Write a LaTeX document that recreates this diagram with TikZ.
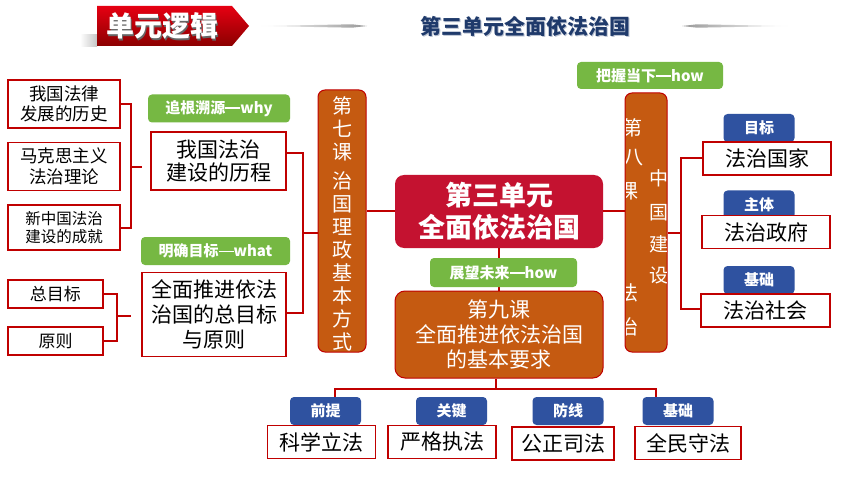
\documentclass[tikz,border=0pt]{standalone}
\usepackage{fontspec}
\setmainfont{Noto Sans CJK SC}
\usetikzlibrary{calc}
\definecolor{lred}{HTML}{C00000}
\definecolor{orng}{HTML}{C55A11}
\definecolor{crim}{HTML}{C41230}
\definecolor{grn}{HTML}{76B843}
\definecolor{blu}{HTML}{2F52A0}
\definecolor{navy}{HTML}{1F3A6B}
\definecolor{hdrtop}{HTML}{E60012}
\definecolor{hdrbot}{HTML}{8B0000}
\newcommand{\longdash}{\raisebox{0.3em}{\rule{1em}{1.6pt}}}
\tikzset{
 conn/.style={draw=lred, line width=2pt},
 rbox/.style={draw=lred, line width=1.8pt, fill=white, inner sep=0pt, align=center, text=black},
 glab/.style={fill=grn, rounded corners=4pt, inner sep=0pt, text=white, font=\fontsize{15}{18}\selectfont\bfseries},
 btag/.style={fill=blu, rounded corners=4pt, inner sep=0pt, text=white, minimum width=71pt, minimum height=28pt, font=\fontsize{15}{18}\selectfont\bfseries},
 obox/.style={fill=orng, draw=lred, line width=1pt, inner sep=0pt},
 wtxt/.style={text=white, inner sep=0pt, align=center},
 ktxt/.style={text=white, inner sep=0pt, font=\fontsize{20}{22}\selectfont},
}
\begin{document}
\begin{tikzpicture}[x=1pt,y=-1pt]
\useasboundingbox (0,0) rectangle (860,484);
\fill[white] (0,0) rectangle (860,484);

% ---- header ----
\shade[left color=white, right color=gray!45] (80,35) rectangle (97,47);
\shade[top color=hdrtop, bottom color=hdrbot] (97,6) -- (232,6) -- (249,26) -- (232,46) -- (97,46) -- cycle;
\node[text=black!60, font=\fontsize{28}{30}\selectfont\bfseries] at (163.5,27.5) {单元逻辑};
\node[name=hdr, text=white, font=\fontsize{28}{30}\selectfont\bfseries] at (162.5,26) {单元逻辑};
\shade[left color=white, right color=gray!80] (260,26) -- (352,24.3) -- (367,26) -- (352,27.7) -- cycle;
\shade[left color=gray!80, right color=white] (682,26) -- (697,24.3) -- (788,26) -- (697,27.7) -- cycle;
\node[text=navy!30, font=\fontsize{21}{24}\selectfont\bfseries] at (526.5,27) {第三单元全面依法治国};
\node[name=title, text=navy, font=\fontsize{21}{24}\selectfont\bfseries] at (525.5,26) {第三单元全面依法治国};

% ---- left column ----
\node[rbox, minimum width=112pt, minimum height=48pt, font=\fontsize{17.5}{20.5}\selectfont] (L1) at (64,104) {我国法律\\发展的历史};
\node[rbox, minimum width=112pt, minimum height=48pt, font=\fontsize{17.5}{21.5}\selectfont] (L2) at (64,166.5) {马克思主义\\法治理论};
\node[rbox, minimum width=112pt, minimum height=45pt, font=\fontsize{15.5}{18.5}\selectfont] (L3) at (64,227.5) {新中国法治\\建设的成就};
\node[rbox, minimum width=95pt, minimum height=28pt, font=\fontsize{17}{20}\selectfont] (S1) at (55.5,294) {总目标};
\node[rbox, minimum width=95pt, minimum height=28pt, font=\fontsize{17}{20}\selectfont] (S2) at (55.5,341) {原则};

\coordinate (b1) at (131,167);
\coordinate (b1e) at (142,167);
\draw[conn] (L1.east) -| (b1) |- (L3.east);
\draw[conn] (b1) -- (b1e);
\coordinate (b2) at (117,316);
\coordinate (b2e) at (131,316);
\draw[conn] (S1.east) -| (b2) |- (S2.east);
\draw[conn] (b2) -- (b2e);

\node[glab, minimum width=142pt, minimum height=28pt] (G1) at (219,108.5) {追根溯源\longdash why};
\node[rbox, minimum width=135pt, minimum height=58pt, font=\fontsize{21}{23.5}\selectfont] (M1) at (218.5,161) {我国法治\\建设的历程};
\node[glab, minimum width=149pt, minimum height=28pt] (G2) at (215.5,251) {明确目标\longdash what};
\node[rbox, minimum width=144pt, minimum height=84pt, font=\fontsize{21}{25}\selectfont] (M2) at (214,314.5) {全面推进依法\\治国的总目标\\与原则};

% ---- lesson 7 ----
\node[obox, rounded corners=7pt, minimum width=48pt, minimum height=262pt] (K7) at (342,221) {};
\node[wtxt, font=\fontsize{20}{23}\selectfont] (K7t) at (342,223.5) {第\\七\\课\\[6pt]治\\国\\理\\政\\基\\本\\方\\式};
\coordinate (b3) at (303,233);
\draw[conn] ([yshift=8pt]M1.east) -| (b3) |- ([yshift=2pt]M2.east);
\draw[conn] (b3) -- (b3 -| K7.west);

% ---- central ----
\node[fill=crim, rounded corners=9pt, minimum width=208pt, minimum height=73pt, inner sep=0pt, text=white, align=center, font=\fontsize{27}{32}\selectfont\bfseries] (C) at (499,211.5) {第三单元\\全面依法治国};
\draw[conn] (C.west) -- (C.west -| K7.east);

\node[obox, rounded corners=10pt, minimum width=208pt, minimum height=87pt, text=white, align=center, font=\fontsize{21}{25}\selectfont] (K9) at (499,334.5) {第九课\\全面推进依法治国\\的基本要求};
\draw[conn] (C.south) -- (K9.north);
\node[glab, minimum width=147pt, minimum height=29pt] (G3) at (503.5,272.5) {展望未来\longdash how};

% ---- bottom ----
\node[btag] (B1) at (325.5,411) {前提};
\node[btag] (B2) at (451.5,411) {关键};
\node[btag] (B3) at (568,411) {防线};
\node[btag] (B4) at (678,411) {基础};
\coordinate (h0) at (496,389);
\coordinate (hl) at (335,389);
\coordinate (hr) at (656,389);
\draw[conn] (K9.south -| h0) -- (h0);
\draw[conn] (B1.north -| hl) |- (hr) -- (B4.north -| hr);
\node[rbox, minimum width=108pt, minimum height=33pt, font=\fontsize{21}{24}\selectfont] (R1) at (321.5,442) {科学立法};
\node[rbox, minimum width=108pt, minimum height=33pt, font=\fontsize{21}{24}\selectfont] (R2) at (442,442) {严格执法};
\node[rbox, minimum width=102pt, minimum height=33pt, font=\fontsize{21}{24}\selectfont] (R3) at (563,443.5) {公正司法};
\node[rbox, minimum width=106pt, minimum height=33pt, font=\fontsize{21}{24}\selectfont] (R4) at (688,443) {全民守法};

% ---- lesson 8 ----
\node[glab, minimum width=146pt, minimum height=27pt] (G4) at (650,75.5) {把握当下\longdash how};
\node[obox, rounded corners=7pt, minimum width=42pt, minimum height=259pt] (K8) at (646,222.5) {};
\begin{scope}
\clip[rounded corners=6pt] (625.5,93.5) rectangle (666.5,351.5);
\foreach \c/\xx/\yy [count=\i] in {第/632/128,八/633/158,课/628/191,法/628/293,治/628/327}
  \node[ktxt] (k8l\i) at (\xx,\yy) {\c};
\foreach \c/\yy [count=\i] in {中/178,国/213,建/244,设/275}
  \node[ktxt, font=\fontsize{19}{21}\selectfont] (k8r\i) at (659,\yy) {\c};
\end{scope}
\draw[conn] (C.east) -- (C.east -| K8.west);

\node[btag] (BT1) at (759,128) {目标};
\node[rbox, minimum width=128pt, minimum height=33pt, font=\fontsize{21}{24}\selectfont] (RT1) at (767,158.5) {法治国家};
\node[btag] (BT2) at (759,204.5) {主体};
\node[rbox, minimum width=128pt, minimum height=33pt, font=\fontsize{21}{24}\selectfont] (RT2) at (766,232) {法治政府};
\node[btag] (BT3) at (759,280) {基础};
\node[rbox, minimum width=129pt, minimum height=33pt, font=\fontsize{21}{24}\selectfont] (RT3) at (765.5,310.5) {法治社会};
\coordinate (b4) at (681,233);
\draw[conn] (RT1.west) -| (b4) |- ([yshift=2pt]RT3.west);
\draw[conn] (b4) -- (b4 -| K8.east);
\end{tikzpicture}
\end{document}
